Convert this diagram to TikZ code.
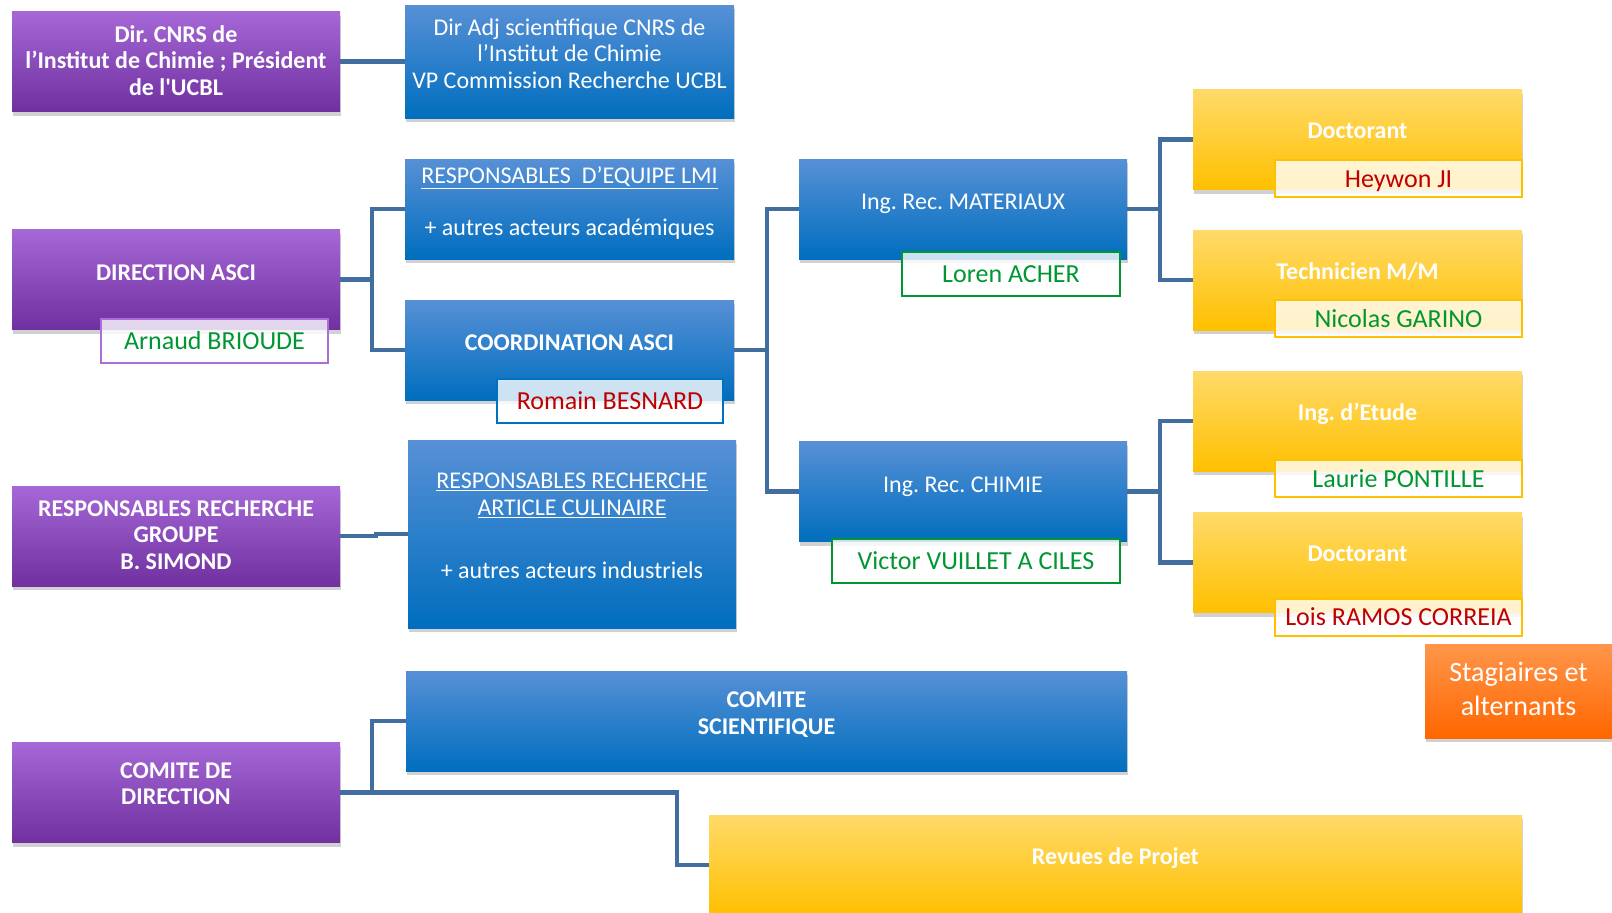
\documentclass[tikz,border=0pt]{standalone}
\usepackage{fontspec}
\setmainfont{Carlito}[Ligatures=TeXOff]
\usepackage{tikz}
\usetikzlibrary{positioning,shadows}
\frenchspacing

\definecolor{purpletop}{RGB}{166,104,214}
\definecolor{purplebot}{RGB}{112,48,160}
\definecolor{bluetop}{RGB}{87,144,214}
\definecolor{bluebot}{RGB}{0,110,190}
\definecolor{yellowtop}{RGB}{255,218,105}
\definecolor{yellowbot}{RGB}{255,192,0}
\definecolor{orangetop}{RGB}{255,150,75}
\definecolor{orangebot}{RGB}{255,102,0}
\definecolor{linkblue}{RGB}{65,110,158}
\definecolor{namegreen}{RGB}{0,150,50}
\definecolor{namered}{RGB}{192,0,0}
\definecolor{namepurple}{RGB}{170,110,215}
\definecolor{nameblue}{RGB}{0,112,192}

\tikzset{
  box/.style={rectangle, minimum width=328pt, minimum height=100pt, inner sep=0pt,
    drop shadow={shadow xshift=1pt, shadow yshift=-4pt, opacity=.3, fill=black!60}},
  pbox/.style={box, top color=purpletop, bottom color=purplebot},
  bbox/.style={box, top color=bluetop, bottom color=bluebot},
  ybox/.style={box, top color=yellowtop, bottom color=yellowbot},
  obox/.style={box, top color=orangetop, bottom color=orangebot},
  ttl/.style={text=white, align=center, inner sep=0pt, font=\fontsize{24}{26.5}\selectfont},
  bttl/.style={ttl, font=\fontsize{24}{26.5}\selectfont\bfseries},
  oneline/.style={text height=21pt, text depth=4pt},
  namebox/.style={draw, line width=2pt, fill=white, fill opacity=.8, text opacity=1,
    minimum height=44pt, inner sep=0pt, text height=21pt, text depth=4pt,
    font=\fontsize{26}{30}\selectfont},
  link/.style={draw=linkblue, line width=4.5pt},
}

\begin{document}
\begin{tikzpicture}[x=1pt,y=-1pt]
\useasboundingbox (0,0) rectangle (1612,913);

% colonne direction
\node[pbox] (cnrs) at (176,61.5) {};
\node[pbox] (dasci) at (176,279.5) {};
\node[pbox] (grp) at (176,536) {};
\node[pbox] (cdir) at (176,792.5) {};

% colonne bleue
\node[bbox, minimum width=329pt, minimum height=113pt] (adj) at (569.5,61.5) {};
\node[bbox, minimum width=329pt] (lmi) at (569.5,209) {};
\node[bbox, minimum width=329pt] (coord) at (569.5,350) {};
\node[bbox, minimum height=188pt] (cul) at (572,534) {};
\node[bbox, minimum width=721pt] (csci) at (766.5,721) {};

% ingenieurs
\node[bbox] (mat) at (963,209) {};
\node[bbox] (chim) at (963,491.5) {};

% doctorants / techniciens
\node[ybox, minimum width=329pt] (doc1) at (1357.5,139.5) {};
\node[ybox, minimum width=329pt] (tech) at (1357.5,280) {};
\node[ybox, minimum width=329pt] (etu) at (1357.5,421) {};
\node[ybox, minimum width=329pt] (doc2) at (1357.5,562.5) {};
\node[ybox, minimum width=813pt] (rev) at (1115.5,865) {};
\node[obox, minimum width=187pt, minimum height=94pt] (stag) at (1518.5,691) {};

% liens
\draw[link] (cnrs.east) -- (adj.west);
\draw[link] (lmi.west) -| ([xshift=32pt]dasci.east) -- (dasci.east);
\draw[link] (coord.west) -| ([xshift=32pt]dasci.east);
\draw[link] (mat.west) -| ([xshift=33pt]coord.east) -- (coord.east);
\draw[link] (chim.west) -| ([xshift=33pt]coord.east);
\draw[link] (doc1.west) -| ([xshift=33pt]mat.east) -- (mat.east);
\draw[link] (tech.west) -| ([xshift=33pt]mat.east);
\draw[link] (etu.west) -| ([xshift=33pt]chim.east) -- (chim.east);
\draw[link] (doc2.west) -| ([xshift=33pt]chim.east);
\draw[link] (grp.east) -- ++(36,0) |- (cul.west);
\draw[link] (csci.west) -| ([xshift=32pt]cdir.east) -- (cdir.east);
\draw[link] (cdir.east) -- ++(337,0) |- (rev.west);

% textes
\node[bttl] (cnrs-t) at ([yshift=1pt]cnrs.center) {Dir. CNRS de\\l’Institut de Chimie ; Président\\de l'UCBL};
\node[bttl, oneline] (dasci-t) at ([yshift=8pt]dasci.center) {DIRECTION ASCI};
\node[bttl] (grp-t) at ([yshift=1pt]grp.center) {RESPONSABLES RECHERCHE\\GROUPE\\B. SIMOND};
\node[bttl] (cdir-t) at ([yshift=9pt]cdir.center) {COMITE DE\\DIRECTION};
\node[ttl] (adj-t) at ([yshift=8pt]adj.center) {Dir Adj scientifique CNRS de\\l’Institut de Chimie\\VP Commission Recherche UCBL};
\node[ttl] (lmi-t) at ([yshift=6pt]lmi.center) {\underline{RESPONSABLES\ \ D’EQUIPE LMI}\\[26pt]+ autres acteurs académiques};
\node[bttl, oneline] (coord-t) at ([yshift=8pt]coord.center) {COORDINATION ASCI};
\node[ttl] (cul-t) at ([yshift=8pt]cul.center) {\underline{RESPONSABLES RECHERCHE}\\\underline{ARTICLE CULINAIRE}\\[37pt]+ autres acteurs industriels};
\node[bttl] (csci-t) at ([yshift=6.5pt]csci.center) {COMITE\\SCIENTIFIQUE};
\node[ttl, oneline] (mat-t) at ([yshift=8pt]mat.center) {Ing. Rec. MATERIAUX};
\node[ttl, oneline] (chim-t) at ([yshift=8pt]chim.center) {Ing. Rec. CHIMIE};
\node[bttl, oneline] (doc1-t) at ([yshift=9.5pt]doc1.center) {Doctorant};
\node[bttl, oneline] (tech-t) at ([yshift=9pt]tech.center) {Technicien M/M};
\node[bttl, oneline] (etu-t) at ([yshift=9pt]etu.center) {Ing. d’Etude};
\node[bttl, oneline] (doc2-t) at ([yshift=9.5pt]doc2.center) {Doctorant};
\node[bttl, oneline] (rev-t) at ([yshift=9pt]rev.center) {Revues de Projet};
\node[ttl, font=\fontsize{28}{34}\selectfont] (stag-t) at ([yshift=2pt]stag.center) {Stagiaires et\\alternants};

% noms
\node[namebox, draw=namepurple, text=namegreen, minimum width=227pt] (arn) at (214.5,341) {Arnaud BRIOUDE};
\node[namebox, draw=nameblue, text=namered, minimum width=226pt] (rom) at (610,401) {Romain BESNARD};
\node[namebox, draw=namegreen, text=namegreen, minimum width=218pt] (lor) at (1011,274) {Loren ACHER};
\node[namebox, draw=namegreen, text=namegreen, minimum width=288pt] (vic) at (976,560.5) {Victor VUILLET A CILES};
\node[namebox, draw=yellowbot, text=namered, minimum width=247pt, minimum height=37pt] (hey) at (1398.5,178.5) {Heywon JI};
\node[namebox, draw=yellowbot, text=namegreen, minimum width=247pt, minimum height=37pt] (nic) at (1398.5,318.5) {Nicolas GARINO};
\node[namebox, draw=yellowbot, text=namegreen, minimum width=247pt, minimum height=37pt] (lau) at (1398.5,478.5) {Laurie PONTILLE};
\node[namebox, draw=yellowbot, text=namered, minimum width=247pt, minimum height=37pt] (loi) at (1398.5,617) {Lois RAMOS CORREIA};
\end{tikzpicture}
\end{document}
